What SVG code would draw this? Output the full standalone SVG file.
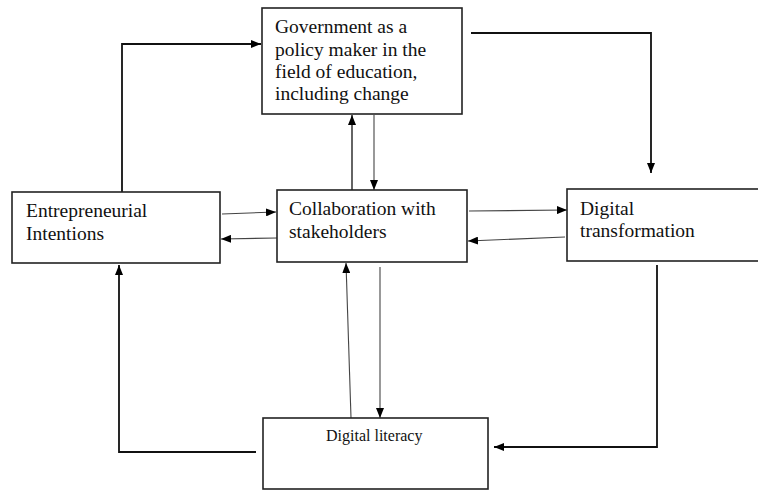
<svg xmlns="http://www.w3.org/2000/svg" width="758" height="490" viewBox="0 0 758 490">
<style>
.box{fill:#fff;stroke:#222;stroke-width:1.6}
.t{font-family:"Liberation Serif","Times New Roman",serif;font-size:19.5px;fill:#111}
.s{font-family:"Liberation Serif","Times New Roman",serif;font-size:16px;fill:#111}
.thick{fill:none;stroke:#111;stroke-width:1.8}
.thin{fill:none;stroke:#444;stroke-width:1.1}
</style>
<defs>
<marker id="ah" markerWidth="10" markerHeight="8" refX="10" refY="4" orient="auto" markerUnits="userSpaceOnUse">
<path d="M0,0 L10,4 L0,8 Z" fill="#000"/>
</marker>
</defs>
<rect width="758" height="490" fill="#fff"/>
<g id="connectors">
<path class="thick" d="M122,192 V44 H261" marker-end="url(#ah)"/>
<path class="thick" d="M471,33 H651 V173" marker-end="url(#ah)"/>
<path class="thin" d="M352,190 V115" marker-end="url(#ah)" style="stroke:#111;stroke-width:1.3"/>
<path class="thin" d="M374,115 V190" marker-end="url(#ah)"/>
<path class="thin" d="M222,214 L276,212" marker-end="url(#ah)"/>
<path class="thin" d="M277,238 L221,239" marker-end="url(#ah)"/>
<path class="thin" d="M469,211 L567,210" marker-end="url(#ah)"/>
<path class="thin" d="M565,237 L468,241" marker-end="url(#ah)"/>
<path class="thin" d="M351,418 L346,263" marker-end="url(#ah)"/>
<path class="thin" d="M380,267 V418" marker-end="url(#ah)"/>
<path class="thick" d="M256,452 H119 V265" marker-end="url(#ah)"/>
<path class="thick" d="M657,265 V447 H494" marker-end="url(#ah)"/>
</g>
<g id="government">
<rect class="box" x="262" y="8" width="200" height="106"/>
<text class="t" x="275" y="33">Government as a</text>
<text class="t" x="275" y="56">policy maker in the</text>
<text class="t" x="275" y="78">field of education,</text>
<text class="t" x="275" y="100">including change</text>
</g>
<g id="entrepreneurial">
<rect class="box" x="12" y="192" width="208" height="71"/>
<text class="t" x="26" y="217">Entrepreneurial</text>
<text class="t" x="26" y="240">Intentions</text>
</g>
<g id="collaboration">
<rect class="box" x="277" y="190" width="190" height="72"/>
<text class="t" x="289" y="215">Collaboration with</text>
<text class="t" x="289" y="238">stakeholders</text>
</g>
<g id="digital-transformation">
<rect class="box" x="567" y="189" width="210" height="72"/>
<text class="t" x="580" y="215">Digital</text>
<text class="t" x="580" y="237">transformation</text>
</g>
<g id="digital-literacy">
<rect class="box" x="263" y="418" width="225" height="71"/>
<text class="s" x="326" y="441">Digital literacy</text>
</g>
</svg>
